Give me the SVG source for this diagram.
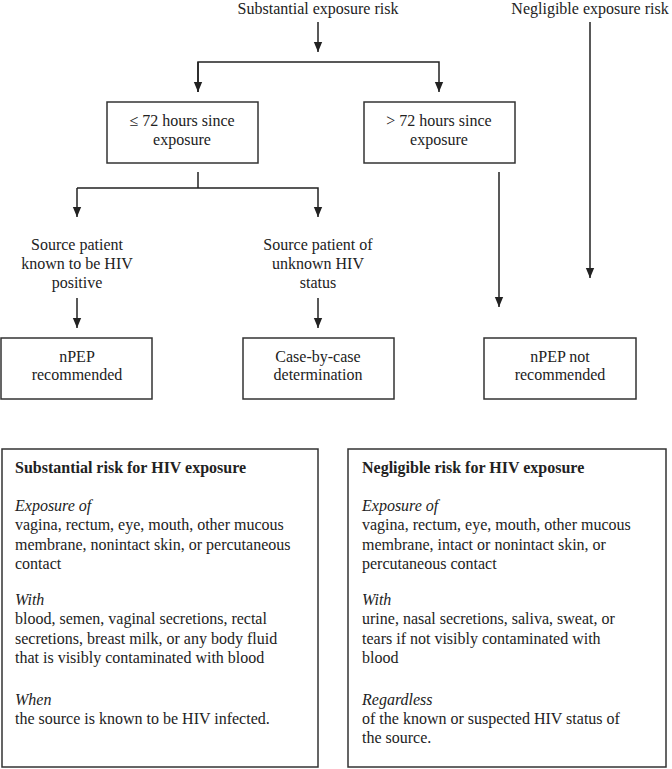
<svg xmlns="http://www.w3.org/2000/svg" width="672" height="769" viewBox="0 0 672 769">
<style>
text{font-family:'Liberation Serif','Times New Roman','DejaVu Serif',serif;fill:#222;font-size:16px}
.c{text-anchor:middle}
.box{fill:#fff;stroke:#333;stroke-width:1.5}
.ln{fill:none;stroke:#222;stroke-width:1.5}
.b{font-weight:bold}
.i{font-style:italic}
.p{font-size:16px}
</style>
<defs>
<marker id="arr" markerWidth="10" markerHeight="12" refX="12" refY="5" orient="auto" markerUnits="userSpaceOnUse" viewBox="0 0 12 10">
<path d="M0,0 L12,5 L0,10 Z" fill="#222"/>
</marker>
</defs>
<g id="connectors">
<line class="ln" x1="318" y1="22" x2="318" y2="52" marker-end="url(#arr)"/>
<polyline class="ln" points="198,92 198,62 439,62 439,92" marker-end="url(#arr)"/>
<line class="ln" x1="198" y1="62" x2="198" y2="92" marker-end="url(#arr)"/>
<line class="ln" x1="198" y1="172" x2="198" y2="188"/>
<polyline class="ln" points="77,188 318,188 318,217" marker-end="url(#arr)"/>
<line class="ln" x1="77" y1="188" x2="77" y2="217" marker-end="url(#arr)"/>
<line class="ln" x1="77" y1="298" x2="77" y2="328" marker-end="url(#arr)"/>
<line class="ln" x1="318" y1="298" x2="318" y2="328" marker-end="url(#arr)"/>
<line class="ln" x1="499" y1="172" x2="499" y2="307" marker-end="url(#arr)"/>
<line class="ln" x1="590" y1="22" x2="590" y2="278" marker-end="url(#arr)"/>
</g>
<g id="substantial">
<text class="c" x="318" y="14">Substantial exposure risk</text>
</g>
<g id="negligible">
<text class="c" x="590" y="14">Negligible exposure risk</text>
</g>
<g id="le72">
<rect class="box" x="107" y="102" width="151" height="61"/>
<text class="c" x="182" y="126">≤ 72 hours since</text>
<text class="c" x="182" y="145">exposure</text>
</g>
<g id="gt72">
<rect class="box" x="364" y="102" width="151" height="61"/>
<text class="c" x="439" y="126">&gt; 72 hours since</text>
<text class="c" x="439" y="145">exposure</text>
</g>
<g id="known">
<text class="c" x="77" y="250">Source patient</text>
<text class="c" x="77" y="269">known to be HIV</text>
<text class="c" x="77" y="288">positive</text>
</g>
<g id="unknown">
<text class="c" x="318" y="250">Source patient of</text>
<text class="c" x="318" y="269">unknown HIV</text>
<text class="c" x="318" y="288">status</text>
</g>
<g id="npep">
<rect class="box" x="1" y="338" width="151" height="61"/>
<text class="c" x="77" y="362">nPEP</text>
<text class="c" x="77" y="380">recommended</text>
</g>
<g id="case">
<rect class="box" x="243" y="338" width="151" height="61"/>
<text class="c" x="318" y="362">Case-by-case</text>
<text class="c" x="318" y="380">determination</text>
</g>
<g id="npepnot">
<rect class="box" x="484" y="338" width="152" height="61"/>
<text class="c" x="560" y="362">nPEP not</text>
<text class="c" x="560" y="380">recommended</text>
</g>
<g id="subst-box">
<rect class="box" x="2" y="449" width="316" height="318"/>
<text class="b p" x="15" y="473">Substantial risk for HIV exposure</text>
<text class="i p" x="15" y="511">Exposure of</text>
<text class="p" x="15" y="530">vagina, rectum, eye, mouth, other mucous</text>
<text class="p" x="15" y="550">membrane, nonintact skin, or percutaneous</text>
<text class="p" x="15" y="569">contact</text>
<text class="i p" x="15" y="605">With</text>
<text class="p" x="15" y="624">blood, semen, vaginal secretions, rectal</text>
<text class="p" x="15" y="644">secretions, breast milk, or any body fluid</text>
<text class="p" x="15" y="663">that is visibly contaminated with blood</text>
<text class="i p" x="15" y="705">When</text>
<text class="p" x="15" y="724">the source is known to be HIV infected.</text>
</g>
<g id="negl-box">
<rect class="box" x="348" y="449" width="318" height="318"/>
<text class="b p" x="362" y="473">Negligible risk for HIV exposure</text>
<text class="i p" x="362" y="511">Exposure of</text>
<text class="p" x="362" y="530">vagina, rectum, eye, mouth, other mucous</text>
<text class="p" x="362" y="550">membrane, intact or nonintact skin, or</text>
<text class="p" x="362" y="569">percutaneous contact</text>
<text class="i p" x="362" y="605">With</text>
<text class="p" x="362" y="624">urine, nasal secretions, saliva, sweat, or</text>
<text class="p" x="362" y="644">tears if not visibly contaminated with</text>
<text class="p" x="362" y="663">blood</text>
<text class="i p" x="362" y="705">Regardless</text>
<text class="p" x="362" y="724">of the known or suspected HIV status of</text>
<text class="p" x="362" y="743">the source.</text>
</g>
</svg>
